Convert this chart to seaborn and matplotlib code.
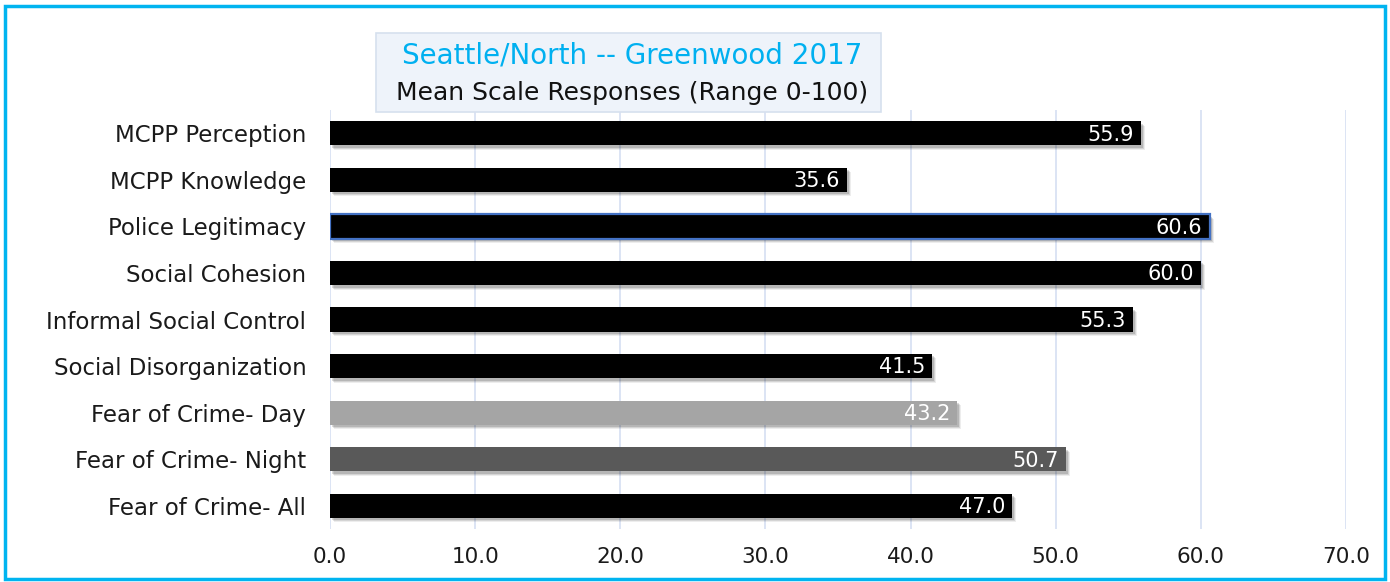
import matplotlib
matplotlib.use("Agg")
import matplotlib.pyplot as plt
import matplotlib.patheffects as pe
from matplotlib.patches import Rectangle
import seaborn as sns
import pandas as pd

categories = [
    "MCPP Perception",
    "MCPP Knowledge",
    "Police Legitimacy",
    "Social Cohesion",
    "Informal Social Control",
    "Social Disorganization",
    "Fear of Crime- Day",
    "Fear of Crime- Night",
    "Fear of Crime- All",
]
values = [55.9, 35.6, 60.6, 60.0, 55.3, 41.5, 43.2, 50.7, 47.0]
bar_colors = ["#000000", "#000000", "#000000", "#000000", "#000000",
              "#000000", "#A5A5A5", "#595959", "#000000"]
x_ticks = [0, 10, 20, 30, 40, 50, 60, 70]

title_line1 = "Seattle/North -- Greenwood 2017"
title_line2 = "Mean Scale Responses (Range 0-100)"

df = pd.DataFrame({"category": categories, "value": values})

sns.set_theme(style="white")
plt.rcParams["font.family"] = ["DejaVu Sans"]

fig = plt.figure(figsize=(13.9, 5.82), dpi=100)
ax = fig.add_axes([0.2374, 0.091, 0.7309, 0.720])

sns.barplot(data=df, x="value", y="category", hue="category",
            palette=dict(zip(categories, bar_colors)), order=categories,
            orient="h", width=0.52, legend=False, ax=ax, zorder=3,
            saturation=1)

# soft drop shadow built from a few faint offset layers
shadow = [
    pe.SimplePatchShadow(offset=(3.0, -3.2), shadow_rgbFace="#000000", alpha=0.07),
    pe.SimplePatchShadow(offset=(2.2, -2.5), shadow_rgbFace="#000000", alpha=0.10),
    pe.SimplePatchShadow(offset=(1.5, -1.8), shadow_rgbFace="#000000", alpha=0.14),
    pe.Normal(),
]
for patch in ax.patches:
    patch.set_path_effects(shadow)
    patch.set_linewidth(0)

# highlighted outline on Police Legitimacy
sel = categories.index("Police Legitimacy")
for patch in ax.patches:
    y_c = patch.get_y() + patch.get_height() / 2
    if abs(y_c - sel) < 0.01:
        patch.set_edgecolor("#4472C4")
        patch.set_linewidth(1.6)

for i, v in enumerate(values):
    ax.annotate(f"{v:.1f}", xy=(v, i), xytext=(-5, -1),
                textcoords="offset points", ha="right", va="center",
                color="white", fontsize=15, zorder=5)

ax.set_xlim(0, 70)
ax.set_ylim(len(categories) - 0.5, -0.5)
ax.set_xticks(x_ticks)
ax.set_xticklabels([f"{t:.1f}" for t in x_ticks], fontsize=15.5, color="#1A1A1A")
ax.tick_params(axis="y", labelsize=16.5, labelcolor="#1A1A1A", length=0, pad=17)
ax.tick_params(axis="x", length=0, pad=13)
ax.set_xlabel("")
ax.set_ylabel("")
ax.grid(axis="x", color="#D9E2F3", linewidth=1.3, zorder=0)
ax.set_axisbelow(True)
for s in ax.spines.values():
    s.set_visible(False)

# title box
fig.text(0.4547, 0.840, title_line2, ha="center", va="center", fontsize=18,
         color="#111111", zorder=6)
fig.text(0.4547, 0.905, title_line1, ha="center", va="center", fontsize=20,
         color="#00B0F0", zorder=6)
fig.patches.append(Rectangle((0.2705, 0.808), 0.3635, 0.135,
                             transform=fig.transFigure, facecolor="#EEF3FA",
                             edgecolor="#D6E0EE", linewidth=1.2, zorder=5))

# outer frame
fig.patches.append(Rectangle((0.0036, 0.006), 0.9925, 0.984,
                             transform=fig.transFigure, fill=False,
                             edgecolor="#00B4F0", linewidth=2.5, zorder=10))

fig.savefig("out.png", dpi=100)
